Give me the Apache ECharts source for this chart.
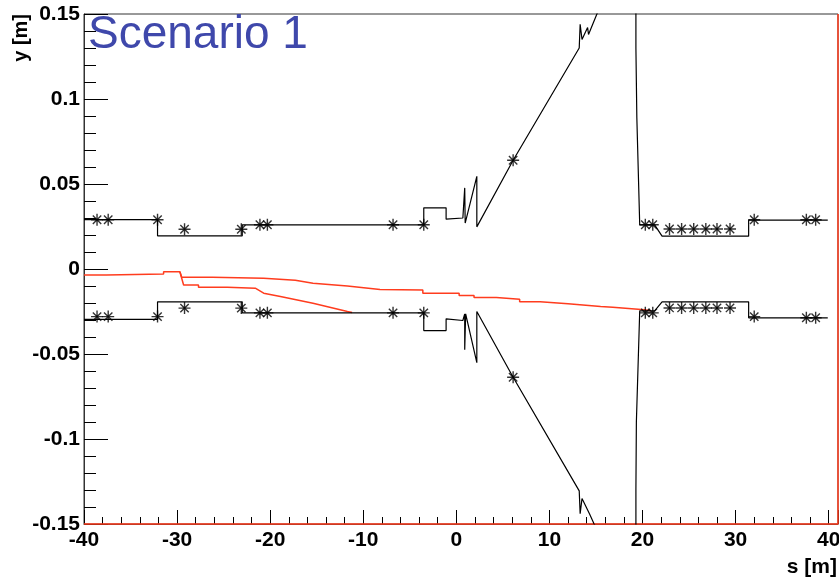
<!DOCTYPE html>
<html>
<head>
<meta charset="utf-8">
<script src="https://cdn.jsdelivr.net/npm/echarts@6/dist/echarts.min.js"></script>
<style>
  html, body { margin: 0; padding: 0; background: #fff; }
  #chart { width: 839px; height: 581px; }
</style>
</head>
<body>
<div id="chart"></div>
<script>
// aperture outline, [s (m), y (m)]
var upperAperture = [
  [-40, 0.029], [-32.1, 0.029], [-32.1, 0.0195], [-23.0, 0.0195], [-23.0, 0.026],
  [-3.5, 0.026], [-3.5, 0.036], [-1.1, 0.036], [-1.1, 0.0293], [0.7, 0.030],
  [0.9, 0.030], [0.9, 0.0477], [0.95, 0.027], [2.2, 0.0545], [2.2, 0.0248],
  [6.1, 0.064], [13.2, 0.130], [13.3, 0.144], [13.5, 0.135], [14.1, 0.142],
  [14.2, 0.138], [15.1, 0.150], [15.5, 0.155]
];
var upperApertureRight = [
  [19.29, 0.16], [19.29, 0.13], [19.39, 0.13], [19.39, 0.089], [19.54, 0.089],
  [19.7, 0.026], [21.3, 0.026], [22.1, 0.0193], [31.4, 0.0193], [31.4, 0.0287],
  [39.9, 0.0287]
];
var lowerAperture = [
  [-40, -0.0296], [-32.1, -0.0296], [-32.1, -0.0193], [-23.0, -0.0193], [-23.0, -0.0258],
  [-3.5, -0.0258], [-3.5, -0.0362], [-1.1, -0.0362], [-1.1, -0.0293], [0.7, -0.0303],
  [0.9, -0.0264], [0.9, -0.0475], [1.0, -0.0264], [2.2, -0.0551], [2.2, -0.025],
  [6.1, -0.0637], [13.2, -0.1305], [13.3, -0.144], [13.5, -0.135], [14.3, -0.144],
  [14.8, -0.150], [15.1, -0.153]
];
var lowerApertureRight = [
  [19.29, -0.16], [19.29, -0.1295], [19.34, -0.1295], [19.34, -0.09], [19.49, -0.09],
  [19.7, -0.0246], [21.3, -0.0246], [22.1, -0.0193], [31.4, -0.0193], [31.4, -0.0287],
  [39.9, -0.0287]
];

// element markers
var upperMarkers = [
  [-38.6, 0.029], [-37.4, 0.029], [-32.1, 0.029], [-29.2, 0.0234], [-23.1, 0.0234],
  [-21.1, 0.026], [-20.3, 0.026], [-6.8, 0.026], [-3.5, 0.026], [6.1, 0.064],
  [20.3, 0.026], [21.1, 0.026], [22.9, 0.0235], [24.2, 0.0235], [25.5, 0.0235],
  [26.8, 0.0235], [28.0, 0.0235], [29.4, 0.0235], [32.0, 0.029], [37.6, 0.029], [38.6, 0.029]
];
var lowerMarkers = [
  [-38.6, -0.028], [-37.4, -0.028], [-32.1, -0.028], [-29.2, -0.023], [-23.1, -0.023],
  [-21.1, -0.0258], [-20.3, -0.0258], [-6.8, -0.0258], [-3.5, -0.0258], [6.1, -0.0637],
  [20.3, -0.0258], [21.1, -0.0258], [22.9, -0.0229], [24.2, -0.0229], [25.5, -0.0229],
  [26.8, -0.0229], [28.0, -0.0229], [29.4, -0.0229], [32.0, -0.028], [37.6, -0.0287], [38.6, -0.0287]
];

// beam trajectories
var beamMain = [
  [-40, -0.0035], [-37.6, -0.0035], [-37.6, -0.0029], [-31.45, -0.0029], [-31.45, -0.0016],
  [-29.7, -0.0016], [-29.5, -0.0049], [-26.2, -0.0049], [-26.2, -0.0055], [-20.7, -0.0055],
  [-20.7, -0.0062], [-17.3, -0.0066], [-15.4, -0.0084], [-11.7, -0.0100], [-8.2, -0.0121],
  [-3.6, -0.0123], [-3.6, -0.0142], [0.3, -0.0142], [0.3, -0.0156], [1.9, -0.0156],
  [1.9, -0.0168], [4.3, -0.0168], [4.3, -0.0178], [6.8, -0.0178], [6.8, -0.0192],
  [9.0, -0.0192], [9.0, -0.0200], [12.0, -0.0205], [12.0, -0.0213], [15.5, -0.0221],
  [16.8, -0.0225], [16.8, -0.0234], [20.2, -0.0240], [20.9, -0.0245]
];
var beamLost = [
  [-29.7, -0.0016], [-29.3, -0.0094], [-27.7, -0.0094], [-27.7, -0.0107], [-24.6, -0.0107],
  [-24.6, -0.0113], [-21.6, -0.0113], [-20.7, -0.0142], [-18.9, -0.0162], [-15.4, -0.0201],
  [-11.7, -0.0250], [-11.2, -0.0256]
];
var beamEdge = [[-40, -0.15], [41, -0.15], [41, 0.15]];

var sMin = -40, sMax = 41;
var asterisk = 'path://M0,6H12M6,0V12M1.8,1.8L10.2,10.2M10.2,1.8L1.8,10.2M5,5H7V7H5Z';
var labelFont = { color: '#000', fontFamily: 'Liberation Sans', fontWeight: 'bold', fontSize: 21 };

function apertureLine(data) {
  return {
    type: 'line', data: data, symbol: 'none', silent: true,
    lineStyle: { color: '#000', width: 1.2 }, z: 3
  };
}
function markerSeries(data) {
  return {
    type: 'scatter', data: data, symbol: asterisk, symbolSize: 12, silent: true,
    itemStyle: { color: '#000', borderColor: '#000', borderWidth: 1.4 }, z: 4
  };
}
function beamLine(data, clip) {
  return {
    type: 'line', data: data, symbol: 'none', silent: true, clip: clip,
    lineStyle: { color: '#ff3c1e', width: 1.5 }, z: 2
  };
}

var myChart = echarts.init(document.getElementById('chart'));
myChart.setOption({
  backgroundColor: '#fff',
  animation: false,
  grid: {
    left: 84, right: 1, top: 14, bottom: 57,
    outerBoundsMode: 'none', containLabel: false,
    show: true, borderColor: '#333', borderWidth: 1
  },
  xAxis: [
    {
      type: 'value', min: sMin, max: sMax, interval: 10,
      axisLine: { onZero: false, lineStyle: { color: '#333', width: 1 } },
      axisTick: { inside: true, length: 14, lineStyle: { color: '#000' } },
      splitLine: { show: false },
      axisLabel: Object.assign({
        margin: 6,
        formatter: function (v) { return v > 40 ? '' : String(v); }
      }, labelFont)
    },
    {
      // minor ticks every 2 m
      type: 'value', min: sMin, max: sMax, interval: 2, position: 'bottom',
      axisLine: { show: false, onZero: false },
      axisTick: { inside: true, length: 7, lineStyle: { color: '#000' } },
      axisLabel: { show: false },
      splitLine: { show: false }
    }
  ],
  yAxis: {
    type: 'value', min: -0.15, max: 0.15, interval: 0.05,
    axisLine: { show: true, onZero: false, lineStyle: { color: '#333', width: 1 } },
    axisTick: { inside: true, length: 24, lineStyle: { color: '#000' } },
    minorTick: { show: true, splitNumber: 5, length: 12, lineStyle: { color: '#000' } },
    splitLine: { show: false },
    axisLabel: Object.assign({
      margin: 4,
      formatter: function (v) { return String(+v.toFixed(2)); }
    }, labelFont)
  },
  graphic: [
    {
      type: 'text', left: 88, top: 12, z: 10,
      style: { text: 'Scenario 1', fill: '#3f48ab', fontFamily: 'Liberation Sans', fontSize: 46 }
    },
    {
      type: 'text', x: 21, y: 14, rotation: Math.PI / 2, z: 10,
      style: { text: 'y [m]', align: 'right', verticalAlign: 'middle', fill: '#000',
        fontFamily: 'Liberation Sans', fontWeight: 'bold', fontSize: 20 }
    },
    {
      type: 'text', x: 837, y: 578, z: 10,
      style: { text: 's [m]', align: 'right', verticalAlign: 'bottom', fill: '#000',
        fontFamily: 'Liberation Sans', fontWeight: 'bold', fontSize: 21 }
    }
  ],
  series: [
    beamLine(beamEdge, false),
    beamLine(beamMain, true),
    beamLine(beamLost, true),
    apertureLine(upperAperture),
    apertureLine(upperApertureRight),
    apertureLine(lowerAperture),
    apertureLine(lowerApertureRight),
    markerSeries(upperMarkers),
    markerSeries(lowerMarkers)
  ]
});
</script>
</body>
</html>
